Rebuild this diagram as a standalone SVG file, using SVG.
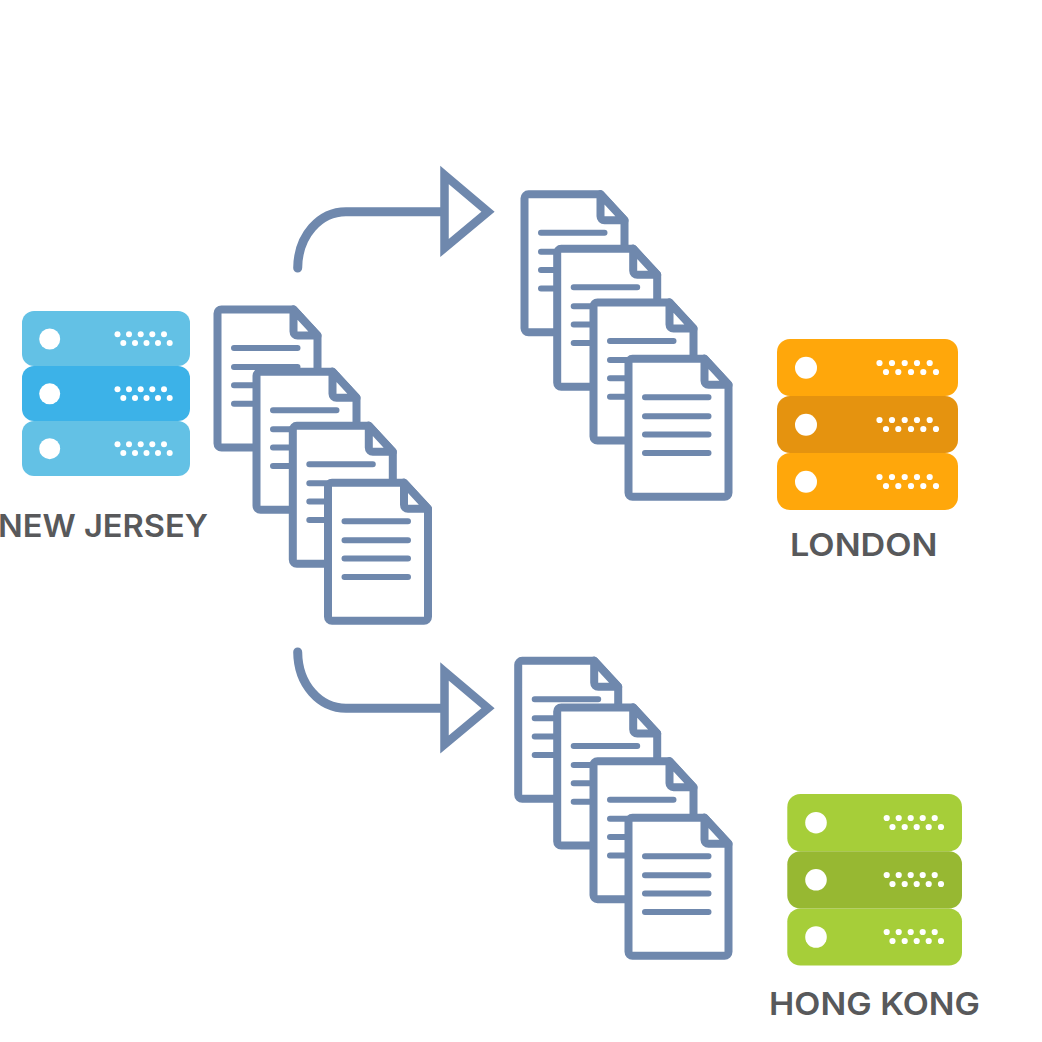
<svg xmlns="http://www.w3.org/2000/svg" xmlns:xlink="http://www.w3.org/1999/xlink" width="1042" height="1042" viewBox="0 0 1042 1042">
<style>
.l{font-family:"Inter","Liberation Sans",sans-serif;font-size:31px;font-weight:600;fill:#58595b}
.doc{fill:#fff;stroke:#6f88ad;stroke-width:8;stroke-linejoin:round;stroke-linecap:round}
.dl{fill:none;stroke:#6f88ad;stroke-width:6;stroke-linecap:round}
.arrow{fill:none;stroke:#6f88ad;stroke-width:9;stroke-linecap:round}
.head{fill:#fff;stroke:#6f88ad;stroke-width:8.500;stroke-linejoin:miter;stroke-miterlimit:10}
.w{fill:#fff}
</style>
<defs>
<g id="d">
<path class="doc" d="M4 0H76L100 26V134a4 4 0 0 1-4 4H4a4 4 0 0 1-4-4V4a4 4 0 0 1 4-4Z"/>
<path class="doc" d="M76 0V22a4 4 0 0 0 4 4H100Z"/>
<path class="dl" d="M16.500 38.500H80M16.500 57.500H80M16.500 75.800H80M16.500 94.200H80"/>
</g>
<g id="dots-nj" class="w">
<circle cx="117.500" cy="0" r="3"/><circle cx="129" cy="0" r="3"/><circle cx="140.700" cy="0" r="3"/><circle cx="152.300" cy="0" r="3"/><circle cx="164" cy="0" r="3"/>
<circle cx="123.300" cy="8.800" r="3"/><circle cx="135" cy="8.800" r="3"/><circle cx="146.500" cy="8.800" r="3"/><circle cx="158" cy="8.800" r="3"/><circle cx="169.700" cy="8.800" r="3"/>
</g>
<g id="dots-ld" class="w">
<circle cx="879.500" cy="0" r="3.100"/><circle cx="892" cy="0" r="3.100"/><circle cx="904.700" cy="0" r="3.100"/><circle cx="917" cy="0" r="3.100"/><circle cx="929.700" cy="0" r="3.100"/>
<circle cx="886" cy="9" r="3.100"/><circle cx="898.300" cy="9" r="3.100"/><circle cx="911" cy="9" r="3.100"/><circle cx="923.300" cy="9" r="3.100"/><circle cx="936" cy="9" r="3.100"/>
</g>
<g id="dots-hk" class="w">
<circle cx="886.700" cy="0" r="3.100"/><circle cx="898.700" cy="0" r="3.100"/><circle cx="910.700" cy="0" r="3.100"/><circle cx="922.700" cy="0" r="3.100"/><circle cx="934.700" cy="0" r="3.100"/>
<circle cx="892.500" cy="9" r="3.100"/><circle cx="904.700" cy="9" r="3.100"/><circle cx="916.700" cy="9" r="3.100"/><circle cx="928.700" cy="9" r="3.100"/><circle cx="941" cy="9" r="3.100"/>
</g>
</defs>
<rect width="1042" height="1042" fill="#fff"/>
<g id="connectors">
<path class="arrow" d="M297.700 268C298 235 320 211.700 346 211.700H445"/>
<path class="head" d="M444.500 175L488 211.700L444.500 248Z"/>
<path class="arrow" d="M297.700 652C298 685 320 708.300 346 708.300H445"/>
<path class="head" d="M444.500 671.500L488 708.300L444.500 744.500Z"/>
</g>
<g id="server-new-jersey">
<rect x="22" y="311" width="168" height="55" rx="12" fill="#63c1e5"/>
<rect x="22" y="421" width="168" height="55" rx="12" fill="#63c1e5"/>
<rect x="22" y="366" width="168" height="55" rx="12" fill="#3cb2e8"/>
<circle class="w" cx="49.700" cy="339" r="10.500"/><circle class="w" cx="49.700" cy="393.800" r="10.500"/><circle class="w" cx="49.700" cy="448.700" r="10.500"/>
<use xlink:href="#dots-nj" href="#dots-nj" y="334.300"/><use xlink:href="#dots-nj" href="#dots-nj" y="389.200"/><use xlink:href="#dots-nj" href="#dots-nj" y="444.200"/>
<text class="l" x="-2" y="537" textLength="210" lengthAdjust="spacingAndGlyphs">NEW JERSEY</text>
</g>
<g id="docs-new-jersey">
<use xlink:href="#d" href="#d" x="217.500" y="309.500"/>
<use xlink:href="#d" href="#d" x="256.500" y="371.800"/>
<use xlink:href="#d" href="#d" x="292.800" y="425.800"/>
<use xlink:href="#d" href="#d" x="328" y="482.800"/>
</g>
<g id="docs-london">
<use xlink:href="#d" href="#d" x="524.500" y="194.300"/>
<use xlink:href="#d" href="#d" x="557.200" y="248.800"/>
<use xlink:href="#d" href="#d" x="593.500" y="302.500"/>
<use xlink:href="#d" href="#d" x="628.500" y="358.800"/>
</g>
<g id="docs-hong-kong">
<use xlink:href="#d" href="#d" x="518.200" y="660.800"/>
<use xlink:href="#d" href="#d" x="557.200" y="707.500"/>
<use xlink:href="#d" href="#d" x="593.500" y="761.200"/>
<use xlink:href="#d" href="#d" x="628.500" y="817.800"/>
</g>
<g id="server-london">
<rect x="777" y="339" width="181" height="57" rx="13" fill="#ffa70b"/>
<rect x="777" y="453" width="181" height="57" rx="13" fill="#ffa70b"/>
<rect x="777" y="396" width="181" height="57" rx="13" fill="#e5930f"/>
<circle class="w" cx="806" cy="367.700" r="11"/><circle class="w" cx="806" cy="424.800" r="11"/><circle class="w" cx="806" cy="481.700" r="11"/>
<use xlink:href="#dots-ld" href="#dots-ld" y="363"/><use xlink:href="#dots-ld" href="#dots-ld" y="420"/><use xlink:href="#dots-ld" href="#dots-ld" y="477"/>
<text class="l" x="790" y="555.500" textLength="147.500" lengthAdjust="spacingAndGlyphs">LONDON</text>
</g>
<g id="server-hong-kong">
<rect x="787.300" y="794" width="174.700" height="57.300" rx="13" fill="#a6ce39"/>
<rect x="787.300" y="908.500" width="174.700" height="57" rx="13" fill="#a6ce39"/>
<rect x="787.300" y="851.300" width="174.700" height="57.200" rx="13" fill="#97b832"/>
<circle class="w" cx="816" cy="822.700" r="10.800"/><circle class="w" cx="816" cy="879.800" r="10.800"/><circle class="w" cx="816" cy="937" r="10.800"/>
<use xlink:href="#dots-hk" href="#dots-hk" y="818"/><use xlink:href="#dots-hk" href="#dots-hk" y="875"/><use xlink:href="#dots-hk" href="#dots-hk" y="932"/>
<text class="l" x="769" y="1015" textLength="211" lengthAdjust="spacingAndGlyphs">HONG KONG</text>
</g>
</svg>
